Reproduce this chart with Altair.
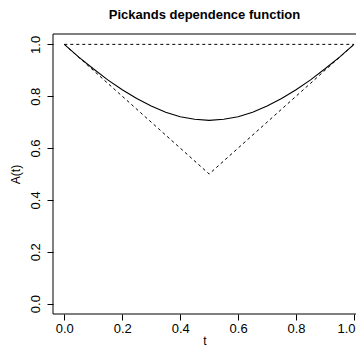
import altair as alt
import pandas as pd

t_vals = [0.0, 0.05, 0.1, 0.15, 0.2, 0.25, 0.3, 0.35, 0.4, 0.45, 0.5,
          0.55, 0.6, 0.65, 0.7, 0.75, 0.8, 0.85, 0.9, 0.95, 1.0]
a_vals = [1.0, 0.951, 0.906, 0.863, 0.825, 0.791, 0.762, 0.738, 0.721, 0.711, 0.707,
          0.711, 0.721, 0.738, 0.762, 0.791, 0.825, 0.863, 0.906, 0.951, 1.0]

bound_t = [0.0, 0.5, 1.0, 0.0, 1.0]
bound_a = [1.0, 0.5, 1.0, 1.0, 1.0]
bound_grp = ["lower", "lower", "lower", "upper", "upper"]
bound_ord = [0, 1, 2, 0, 1]

ticks = [0.0, 0.2, 0.4, 0.6, 0.8, 1.0]

curve = pd.DataFrame({"t": t_vals, "A": a_vals})
bounds = pd.DataFrame({"t": bound_t, "A": bound_a, "g": bound_grp, "o": bound_ord})

font = "Liberation Sans"
W, H = 303, 280

xs = alt.Scale(domain=[-0.039, 1.0069], nice=False, zero=False)
ys = alt.Scale(domain=[-0.04, 1.04], nice=False, zero=False)

xax = alt.Axis(values=ticks, format=".1f", title="t", grid=False, domain=False,
               tickColor="black", tickSize=6, labelFontSize=13, labelColor="black",
               labelFont=font, titleFont=font, titleFontSize=12, titleFontWeight="normal",
               titleColor="black", labelPadding=2, titlePadding=0,
               labelFlush=5, labelFlushOffset=1)
yax = alt.Axis(values=ticks, format=".1f", title="A(t)", grid=False, domain=False,
               tickColor="black", tickSize=6, labelFontSize=13, labelColor="black",
               labelFont=font, titleFont=font, titleFontSize=12, titleFontWeight="normal",
               titleColor="black", labelAngle=270, labelAlign="center",
               labelBaseline="bottom", labelPadding=5, titlePadding=7)

line = alt.Chart(curve).mark_line(color="black", strokeWidth=1.1).encode(
    x=alt.X("t:Q", scale=xs, axis=xax),
    y=alt.Y("A:Q", scale=ys, axis=yax),
)

dash = alt.Chart(bounds).mark_line(color="black", strokeWidth=1, strokeDash=[3, 3]).encode(
    x=alt.X("t:Q", scale=xs),
    y=alt.Y("A:Q", scale=ys),
    detail="g:N",
    order="o:Q",
)

frame_df = pd.DataFrame({"k": [0]})
frame_top = alt.Chart(frame_df).mark_rule(color="black", strokeWidth=1).encode(
    x=alt.value(0), x2=alt.value(W), y=alt.value(0))
frame_bottom = alt.Chart(frame_df).mark_rule(color="black", strokeWidth=1).encode(
    x=alt.value(0), x2=alt.value(W), y=alt.value(H))
frame_left = alt.Chart(frame_df).mark_rule(color="black", strokeWidth=1).encode(
    x=alt.value(0), y=alt.value(0), y2=alt.value(H))

chart = alt.layer(dash, line, frame_top, frame_bottom, frame_left).properties(
    width=W, height=H,
    title=alt.TitleParams("Pickands dependence function", font=font, fontSize=13,
                          fontWeight="bold", color="black", offset=12),
    autosize=alt.AutoSizeParams(type="none"),
    padding={"left": 45, "top": 26, "right": 0, "bottom": 32},
).configure_view(stroke=None)

chart.save("out.html", embed_options={"renderer": "svg", "actions": False})
